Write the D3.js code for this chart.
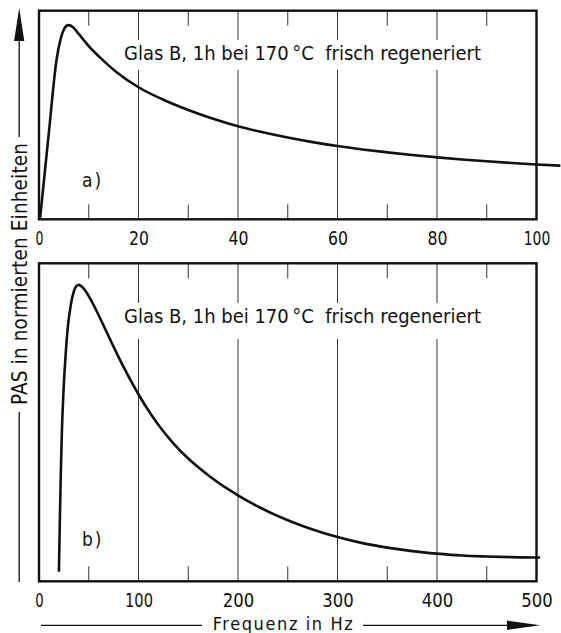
<!DOCTYPE html>
<html>
<head>
<meta charset="utf-8">
<script src="https://cdn.jsdelivr.net/npm/d3@7"></script>
<style>
  html, body { margin: 0; padding: 0; background: #fff; }
  svg { display: block; }
  text { font-family: "Liberation Sans Narrow", "DejaVu Sans Condensed", "DejaVu Sans", sans-serif; fill: #111; }
</style>
</head>
<body>
<svg id="chart" width="561" height="633"></svg>
<script>
// Panel a: 0–100 Hz sweep
const freqA = [0.2, 2, 3.5, 4.3, 5, 5.9, 6.8, 7.6, 8.9, 10, 12.3, 15.6, 20, 25, 30, 35, 40, 45, 50, 55, 60, 65, 70, 75, 80, 85, 90, 95, 100, 104.8];
const pasA  = [0, 0.42, 0.76, 0.86, 0.91, 0.931, 0.922, 0.9, 0.862, 0.83, 0.775, 0.705, 0.633, 0.573, 0.524, 0.482, 0.446, 0.417, 0.392, 0.370, 0.351, 0.335, 0.321, 0.308, 0.297, 0.287, 0.278, 0.270, 0.263, 0.257];

// Panel b: 0–500 Hz sweep
const freqB = [20, 21, 22, 23, 24.5, 26.5, 29, 32, 35, 37.5, 40, 45, 50, 55, 62.5, 71.4, 80, 88, 100.5, 112.5, 121.6, 135, 150, 172, 200, 222, 250, 275, 300, 325, 350, 375, 400, 425, 450, 475, 500, 503.5];
const pasB  = [0.03, 0.2, 0.35, 0.47, 0.59, 0.7, 0.8, 0.87, 0.912, 0.928, 0.932, 0.920, 0.897, 0.868, 0.820, 0.761, 0.705, 0.656, 0.585, 0.525, 0.485, 0.434, 0.386, 0.329, 0.270, 0.232, 0.192, 0.163, 0.139, 0.120, 0.106, 0.095, 0.087, 0.081, 0.078, 0.076, 0.075, 0.075];

const majorTicksA = [0, 20, 40, 60, 80, 100];
const minorTicksA = [10, 30, 50, 70, 90];
const majorTicksB = [0, 100, 200, 300, 400, 500];
const minorTicksB = [50, 150, 250, 350, 450];

const noteText = "Glas B, 1h bei 170\u2009°C  frisch regeneriert";
const panelLabels = ["a)", "b)"];
const yTitle = "PAS in normierten Einheiten";
const xTitle = "Frequenz in Hz";

const svg = d3.select("#chart");
const ink = "#111";

// narrow, evenly spaced numerals in the style of technical lettering
function tickWidth(label) {
  if (label.length === 1) return 8;
  return 10 * label.length - (label[0] === "1" ? 3.5 : 0);
}

function drawPanel(cfg) {
  const x = d3.scaleLinear().domain(cfg.xDomain).range([39, 536.5]);
  const y = d3.scaleLinear().domain([0, 1]).range([cfg.bottom, cfg.top]);
  const g = svg.append("g");

  // full-height grid lines at the labelled frequencies
  g.selectAll("line.grid")
    .data(cfg.major.slice(1, -1))
    .join("line")
    .attr("class", "grid")
    .attr("x1", d => x(d)).attr("x2", d => x(d))
    .attr("y1", cfg.top).attr("y2", cfg.bottom)
    .attr("stroke", "#333").attr("stroke-width", 1);

  // short minor ticks on top and bottom edges
  ["top", "bottom"].forEach(side => {
    g.selectAll("line.minor-" + side)
      .data(cfg.minor)
      .join("line")
      .attr("x1", d => x(d)).attr("x2", d => x(d))
      .attr("y1", side === "top" ? cfg.top : cfg.bottom)
      .attr("y2", side === "top" ? cfg.top + 15 : cfg.bottom - 15)
      .attr("stroke", "#333").attr("stroke-width", 1);
  });

  // annotation with a white backing box that cuts the grid lines
  const box = g.append("rect").attr("fill", "#fff");
  const note = g.append("text")
    .attr("x", 124).attr("y", cfg.noteY)
    .attr("font-size", 20)
    .attr("textLength", 357).attr("lengthAdjust", "spacing")
    .style("white-space", "pre")
    .text(noteText);
  const bb = note.node().getBBox();
  box.attr("x", bb.x - 8).attr("y", cfg.noteY - 20)
     .attr("width", bb.width + 16).attr("height", cfg.boxH);

  // panel letter
  g.append("text")
    .attr("x", 82).attr("y", cfg.labelY)
    .attr("font-size", 19)
    .attr("letter-spacing", 2)
    .text(cfg.label);

  // curve
  const line = d3.line()
    .x(d => x(d[0])).y(d => y(d[1]))
    .curve(d3.curveMonotoneX);
  g.append("path")
    .datum(d3.zip(cfg.freq, cfg.pas))
    .attr("d", line)
    .attr("fill", "none")
    .attr("stroke", ink)
    .attr("stroke-width", 2.6)
    .attr("stroke-linejoin", "round");

  // frame
  g.append("rect")
    .attr("x", x(cfg.xDomain[0])).attr("y", cfg.top)
    .attr("width", x(cfg.xDomain[1]) - x(cfg.xDomain[0]))
    .attr("height", cfg.bottom - cfg.top)
    .attr("fill", "none").attr("stroke", ink).attr("stroke-width", 2.4);

  // tick labels
  const fmt = d3.format("d");
  const axis = d3.axisBottom(x).tickValues(cfg.major).tickSize(0).tickFormat(fmt);
  const ax = g.append("g")
    .attr("transform", `translate(0,${cfg.bottom})`)
    .call(axis);
  ax.select(".domain").remove();
  ax.attr("font-family", null).attr("font-size", null);
  ax.selectAll("text")
    .attr("y", 25.5).attr("dy", null)
    .attr("font-size", cfg.tickFont)
    .attr("fill", ink)
    .attr("textLength", d => tickWidth(fmt(d)) * cfg.tickScale)
    .attr("lengthAdjust", "spacingAndGlyphs");
}

drawPanel({
  xDomain: [0, 100], top: 10.7, bottom: 219.3,
  freq: freqA, pas: pasA, major: majorTicksA, minor: minorTicksA,
  noteY: 60, boxH: 30, label: panelLabels[0], labelY: 187, tickFont: 19, tickScale: 1
});
drawPanel({
  xDomain: [0, 500], top: 263.3, bottom: 581.3,
  freq: freqB, pas: pasB, major: majorTicksB, minor: minorTicksB,
  noteY: 323, boxH: 36, label: panelLabels[1], labelY: 546, tickFont: 20, tickScale: 1.05
});

// vertical axis title with arrow
const yAx = svg.append("g");
yAx.append("line").attr("x1", 19.2).attr("x2", 19.2).attr("y1", 38).attr("y2", 137)
  .attr("stroke", ink).attr("stroke-width", 1.3);
yAx.append("line").attr("x1", 19.2).attr("x2", 19.2).attr("y1", 412).attr("y2", 582)
  .attr("stroke", ink).attr("stroke-width", 1.3);
yAx.append("path").attr("d", "M19.2,8 L24.3,41 L14.1,41 Z").attr("fill", ink);
yAx.append("text")
  .attr("transform", "translate(26.7,274) rotate(-90)")
  .attr("text-anchor", "middle")
  .attr("font-size", 20.5)
  .attr("textLength", 262).attr("lengthAdjust", "spacing")
  .text(yTitle);

// horizontal axis title with arrow
const xAx = svg.append("g");
xAx.append("line").attr("x1", 41).attr("x2", 202).attr("y1", 625.3).attr("y2", 625.3)
  .attr("stroke", ink).attr("stroke-width", 1.3);
xAx.append("line").attr("x1", 363).attr("x2", 510).attr("y1", 625.3).attr("y2", 625.3)
  .attr("stroke", ink).attr("stroke-width", 1.3);
xAx.append("path").attr("d", "M540,625.3 L507,620.6 L507,630 Z").attr("fill", ink);
xAx.append("text")
  .attr("x", 212.7).attr("y", 630)
  .attr("font-size", 18)
  .attr("textLength", 140).attr("lengthAdjust", "spacing")
  .text(xTitle);
</script>
</body>
</html>
